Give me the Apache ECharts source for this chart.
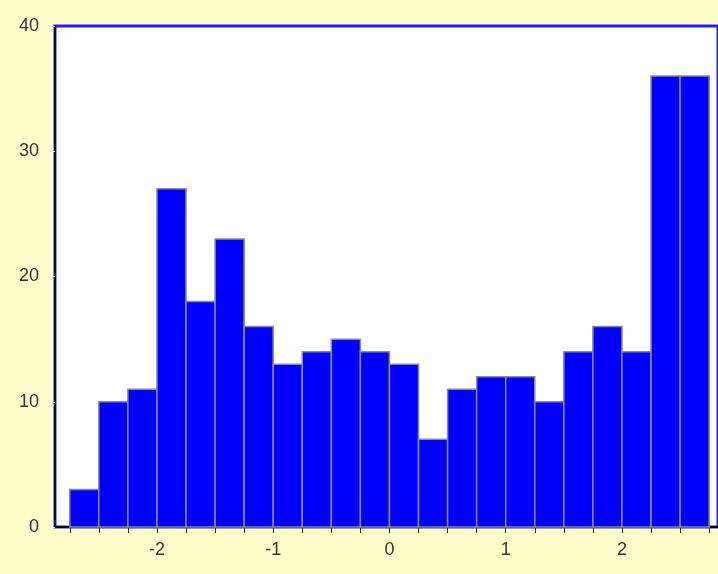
<!DOCTYPE html>
<html>
<head>
<meta charset="utf-8">
<style>
  html, body { margin: 0; padding: 0; background: #ffffcc; }
  #cht { width: 718px; height: 574px; }
</style>
<script src="https://cdn.jsdelivr.net/npm/echarts@6/dist/echarts.min.js"></script>
</head>
<body>
<div id="cht"></div>
<script>
// histogram bins: left edges and counts, bin width 0.25
const binStart = -2.75;
const binWidth = 0.25;
const counts = [3, 10, 11, 27, 18, 23, 16, 13, 14, 15, 14, 13, 7, 11, 12, 12, 10, 14, 16, 14, 36, 36];
const xLabels = [-2, -1, 0, 1, 2];
const yTicks = [0, 10, 20, 30, 40];

const binData = counts.map((c, i) => [binStart + i * binWidth, binStart + (i + 1) * binWidth, c]);
const tickValues = [];
for (let i = 0; i <= counts.length; i++) tickValues.push(binStart + i * binWidth);

const cht = echarts.init(document.getElementById('cht'));

const labelFont = {
  color: '#333',
  fontFamily: 'Liberation Sans',
  fontSize: 18,
};

// plot runs past the right edge of the picture
const xMin = -2.877;
const xMax = 2.826;

/** @type {import("/types").ECOption} */
const option = {
  backgroundColor: '#ffffcc',
  animation: false,
  grid: {
    left: 55,
    top: 26,
    right: 0,
    bottom: 47,
    show: true,
    backgroundColor: '#ffffff',
    borderColor: '#2020ff',
    borderWidth: 3,
  },
  xAxis: [
    {
      type: 'value',
      min: xMin,
      max: xMax,
      splitLine: { show: false },
      axisLine: { show: true, onZero: false, lineStyle: { color: '#000', width: 1.5 } },
      axisTick: {
        show: true,
        length: 6,
        customValues: tickValues,
        lineStyle: { color: '#222', width: 1 },
      },
      axisLabel: {
        ...labelFont,
        margin: 14,
        customValues: xLabels,
        formatter: (v) => String(v),
      },
    },
    {
      type: 'value',
      position: 'top',
      min: xMin,
      max: xMax,
      splitLine: { show: false },
      axisLine: { show: true, lineStyle: { color: '#000', width: 1.5 } },
      axisTick: { show: false },
      axisLabel: { show: false },
    },
  ],
  yAxis: {
    type: 'value',
    min: 0,
    max: 40,
    interval: 10,
    splitLine: { show: false },
    axisLine: { show: true, onZero: false, lineStyle: { color: '#000', width: 1.5 } },
    axisTick: { show: true, length: 7, lineStyle: { color: '#ffffff', width: 1 } },
    axisLabel: { ...labelFont, margin: 16 },
  },
  series: [
    {
      type: 'custom',
      xAxisIndex: 0,
      data: binData,
      encode: { x: [0, 1], y: 2 },
      renderItem: (params, api) => {
        const p0 = api.coord([api.value(0), api.value(2)]);
        const p1 = api.coord([api.value(1), 0]);
        return {
          type: 'rect',
          shape: { x: p0[0], y: p0[1], width: p1[0] - p0[0], height: p1[1] - p0[1] },
          style: { fill: '#0000ff', stroke: '#8c8c8c', lineWidth: 1.5 },
        };
      },
    },
  ],
};

cht.setOption(option);
window.onresize = () => cht.resize();
</script>
</body>
</html>
